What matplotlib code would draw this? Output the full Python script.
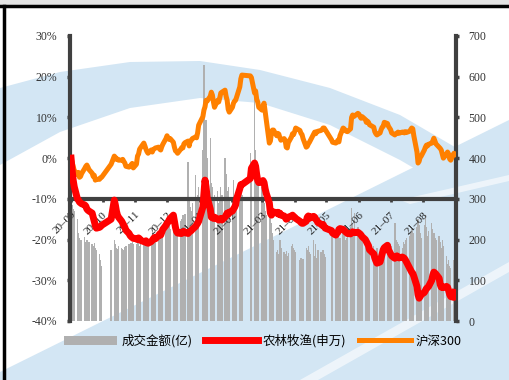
import matplotlib
matplotlib.use("Agg")
import matplotlib.pyplot as plt
from matplotlib.patches import Polygon, Rectangle
from matplotlib.lines import Line2D
import pandas as pd

# jours fériés (bourse de Chine)
holidays = ["2020-10-01", "2020-10-02", "2020-10-05", "2020-10-06", "2020-10-07", "2020-10-08",
            "2021-01-01", "2021-02-11", "2021-02-12", "2021-02-15", "2021-02-16", "2021-02-17",
            "2021-04-05", "2021-05-03", "2021-05-04", "2021-05-05", "2021-06-14"]

# 成交金额(亿) - par mois, sep 2020 -> aou 2021
amount = [
    280, 285, 275, 270, 250, 215, 205, 200, 198, 206, 195, 200, 190, 194, 188, 185, 192, 180, 175, 165, 150, 135,
    175, 200, 190, 180, 178, 185, 180, 178, 175, 182, 185, 190, 186, 192, 195, 188,
    190, 195, 200, 185, 192, 205, 200, 195, 190, 188, 200, 205, 210, 198, 202, 215, 220, 210, 225, 232, 240,
    245, 230, 238, 225, 240, 255, 248, 240, 235, 245, 250, 260, 255, 262, 390, 300, 280, 270, 290, 359, 300, 310, 330,
    420, 629, 380, 494, 400, 450, 340, 330, 300, 310, 320, 290, 300, 330, 310, 400, 360, 320, 330, 300,
    300, 346, 310, 290, 280, 300, 315, 310, 413, 390, 560, 420, 380, 350, 340,
    330, 300, 290, 270, 260, 300, 265, 240, 215, 200, 170, 175, 165, 199, 180, 170, 165, 172, 160, 168, 185, 190, 180,
    175, 170, 150, 155, 148, 152, 180, 175, 185, 170, 165, 200, 160, 190, 155, 175, 170, 160, 174, 165, 158,
    215, 225, 205, 210, 220, 200, 205, 215, 210, 200, 205, 210, 230, 277, 240, 220, 265, 230,
    220, 205, 195, 200, 185, 190, 175, 180, 170, 185, 175, 168, 180, 170, 165, 178, 172, 185, 190, 175, 180,
    190, 185, 240, 200, 195, 190, 185, 180, 195, 190, 200, 205, 210, 215, 225, 220, 215, 230, 250, 235, 215, 205,
    235, 260, 230, 210, 220, 240, 225, 215, 205, 200, 210, 195, 180, 200, 185, 160, 140, 150, 135, 130, 150, 160,
]

# 农林牧渔(申万) en %
agri = [
    0, -3, -5.4, -7, -10, -10.3, -10.8, -11, -11.2, -11.5, -11.8, -12.5, -12.8, -13, -13.5, -14.5, -15.5, -16.5, -17.2, -17, -16.8, -16.5,
    -15, -10.3, -11.5, -13, -14, -14.5, -15.5, -16, -16.5, -17, -17.7, -18.5, -19, -19.3, -19.5, -19.7,
    -19.8, -20, -19.6, -19.8, -20.2, -20.5, -20.6, -20.3, -20.8, -20.9, -20.5, -20.2, -19.8, -19.5, -19.8, -19, -18.6, -18.9, -18.2, -17.5, -16.5,
    -16, -15.7, -15.2, -14.8, -14, -15.5, -17, -18, -18.4, -18.5, -18.2, -18.4, -18, -18.3, -18.5, -18.2, -18, -17.8, -17.5, -16.8, -16.4, -16, -15.5,
    -12, -8.6, -5.4, -7, -9.6, -12.5, -14.5, -14.5, -14.8, -14.5, -15, -15.2, -15, -14.8, -15.2, -14.5, -14, -13.5, -13.8, -13.3,
    -13, -12.5, -12.1, -11.5, -10, -7.5, -6.5, -6.5, -5, -2.5, -1.2, -2, -4, -5.5, -6,
    -5.9, -5.5, -6, -7.5, -8.6, -11, -13.5, -14, -13.5, -13.2, -13.5, -13.3, -13.8, -13.5, -14, -14.2, -14.5, -15, -14.8, -14.5, -14.2, -14, -14.3,
    -14.5, -14.8, -15.5, -15.8, -16, -16, -15.5, -14.5, -14.2, -14.8, -14.5, -14.3, -14.5, -15, -15.3, -15.8, -16.2, -16.5, -16.3, -16.8, -17.2,
    -17.8, -18.4, -18.9, -18.5, -18.2, -17.5, -17.3, -17.5, -17.8, -18, -18.3, -18.5, -18.6, -18.4, -18.1, -18.2, -18.3, -18.2,
    -18.4, -18.6, -18.9, -19.3, -20, -20.5, -21, -21.5, -22.5, -23.5, -24.5, -25.2, -25.8, -25.5, -24.5, -23.5, -22.5, -22, -21.4, -22.5, -23,
    -23.5, -24, -24.6, -24.3, -24, -24.2, -24.5, -24.3, -24.4, -24.6, -25, -25.5, -27, -27.5, -28, -28.3, -29, -31.5, -33.5, -34.4, -34, -33.5,
    -33, -32.5, -32, -31.8, -31.5, -30, -28.8, -28, -28.2, -28.5, -29.5, -31, -31.7, -31.6, -31.8, -31.5, -31.7, -32.5, -33.5, -34, -34.2, -33,
]

# 沪深300 en %
hs300 = [
    0, -1, -2, -3, -4, -3.5, -4.7, -4.5, -3.8, -2.5, -2, -1.7, -2.2, -2.8, -3.7, -4.5, -4.2, -5.4, -5.2, -5.2, -4.8, -4.7,
    -1.5, 0.5, 0.2, -0.3, -0.2, -0.5, -0.5, -0.3, -0.8, -1.2, -2, -2.2, -2, -1.6, -1.3, -2.4,
    -1.5, 0.5, 1.0, 2.2, 2.6, 3.7, 3.0, 2.2, 1.6, 1.2, 2.0, 1.5, 2.1, 2.3, 2.5, 2.7, 2.2, 2.0, 2.8, 3.4, 4.8,
    5.5, 5.0, 4.6, 4.8, 3.9, 2.7, 1.8, 1.6, 1.2, 2.2, 2.6, 2.5, 3.5, 3.8, 4.2, 3.0, 4.2, 4.4, 4.8, 5.2, 5.0, 6.2, 8.1,
    10.2, 11.8, 12.6, 14.2, 14.0, 15.2, 16.2, 15.5, 13.8, 12.5, 14.2, 13.8, 14.8, 16.0, 16.2, 16.7, 15.2, 14.2, 12.0, 11.3,
    12.5, 13.5, 14.0, 14.2, 15.0, 17.5, 19.5, 20.4, 20.2, 19.8, 16.0, 16.5, 14.5, 13.8, 12.5,
    11.8, 12.8, 13.5, 11.5, 9.3, 3.7, 4.2, 6.1, 6.9, 6.9, 5.5, 6.1, 5.9, 5.0, 4.4, 4.8, 4.4, 2.7, 2.5, 3.8, 5.2, 6.0, 5.8,
    6.5, 7.4, 6.8, 6.1, 5.8, 4.8, 2.7, 2.9, 3.5, 3.9, 4.4, 5.9, 6.4, 6.0, 6.5, 6.6, 6.8, 7.0, 7.4, 7.4, 7.0,
    4.5, 3.9, 3.7, 3.9, 4.4, 4.0, 5.5, 7.4, 7.2, 6.8, 6.6, 6.5, 7.2, 10.0, 10.6, 10.2, 10.4, 11.0,
    10.8, 10.2, 9.8, 10.2, 9.5, 8.8, 9.1, 8.8, 8.2, 7.6, 6.5, 6.0, 5.7, 6.2, 7.0, 7.6, 7.8, 8.8, 8.5, 7.8, 7.4,
    7.0, 6.2, 5.7, 6.0, 6.1, 6.4, 6.1, 6.4, 6.4, 6.2, 6.5, 6.3, 6.6, 7.0, 7.4, 7.2, 5.5, 1.5, -1.2, -0.8, 0.2, 0.5,
    2.0, 2.7, 3.2, 3.0, 3.4, 3.7, 4.2, 4.9, 4.2, 3.5, 2.7, 2.4, 2.0, 1.0, 0.0, 1.0, 1.5, 1.0, -0.2, -0.5, 1.2, 1.0,
]

days = pd.bdate_range("2020-09-01", "2021-08-31")
days = days[~days.isin(pd.to_datetime(holidays))]
assert len(days) == len(amount) == len(agri) == len(hs300), (len(days), len(amount), len(agri), len(hs300))

month_ticks = pd.date_range("2020-09-01", "2021-08-01", freq="MS")
left_ticks = [30, 20, 10, 0, -10, -20, -30, -40]
right_ticks = [0, 100, 200, 300, 400, 500, 600, 700]

W, H = 509, 380
fig = plt.figure(figsize=(W / 100, H / 100), dpi=100)
fig.patch.set_facecolor("white")

def fpts(pts):
    return [(x / W, 1 - y / H) for x, y in pts]

# fond: filigrane bleu clair
blue = "#d3e6f4"
band = [(0, 88), (60, 72), (130, 62), (200, 61), (260, 70), (330, 88), (400, 115), (460, 150), (509, 185),
        (509, 228), (460, 195), (400, 160), (330, 125), (260, 103), (200, 98), (130, 108), (60, 132), (0, 165)]
fig.add_artist(Polygon(fpts(band), closed=True, transform=fig.transFigure, fc=blue, ec="none", zorder=-3))
low = [(0, 372), (509, 120), (509, 380), (0, 380)]
fig.add_artist(Polygon(fpts(low), closed=True, transform=fig.transFigure, fc=blue, ec="none", zorder=-3))
for pts in ([(300, 380), (509, 262), (509, 272), (318, 380)],
            [(400, 200), (509, 175), (509, 181), (410, 204)]):
    fig.add_artist(Polygon(fpts(pts), closed=True, transform=fig.transFigure, fc="white", ec="none", alpha=0.6, zorder=-2))

# cadre
fig.add_artist(Rectangle((0, 1 - 5 / H), 1, 5 / H, transform=fig.transFigure, fc="#e2e2e2", ec="none", zorder=-1))
fig.add_artist(Line2D([0, 1], [1 - 6 / H, 1 - 6 / H], transform=fig.transFigure, color="black", lw=2.5))
fig.add_artist(Line2D([3.5 / W, 3.5 / W], [0, 1 - 6 / H], transform=fig.transFigure, color="black", lw=2.5))

ax = fig.add_axes([70 / W, 1 - 321 / H, (456 - 70) / W, (321 - 36) / H])
ax2 = ax.twinx()
ax.patch.set_alpha(0)
ax2.patch.set_alpha(0)

# barres (axe de droite)
ax.bar(days, amount, width=1.3, color="#b0b0b0", linewidth=0, label="成交金额(亿)", zorder=1)
ax.set_ylim(0, 700)
ax.set_xlim(pd.Timestamp("2020-08-31"), pd.Timestamp("2021-09-01"))

dark = "#404040"
ax.spines["top"].set_visible(False)
ax.spines["bottom"].set_position(("data", 300))
for s in ["left", "right", "bottom"]:
    ax.spines[s].set_color(dark)
    ax.spines[s].set_linewidth(3)
    ax.spines[s].set_zorder(2)

ax.yaxis.tick_right()
ax.yaxis.set_label_position("right")
ax.set_yticks(right_ticks)
ax.set_yticklabels([str(v) for v in right_ticks], family="Liberation Serif", fontsize=8.5, color="#333333")
ax.tick_params(axis="y", which="both", left=False, right=True, labelleft=False, labelright=True,
               direction="out", length=2, width=2.5, color=dark, pad=7)

ax.set_xticks(month_ticks)
ax.set_xticklabels([d.strftime("%y–%m") for d in month_ticks], rotation=45, ha="right", va="top",
                   rotation_mode="anchor", family="Liberation Serif", fontsize=8, color="#222222")
ax.tick_params(axis="x", direction="out", length=2, width=2, color=dark, pad=6)

# courbes (axe de gauche)
for s in ax2.spines.values():
    s.set_visible(False)
ax2.plot(days, hs300, color="#ff8000", lw=3.6, label="沪深300", solid_joinstyle="round", zorder=3)
ax2.plot(days, agri, color="#ff0000", lw=5, label="农林牧渔(申万)", solid_joinstyle="round", zorder=4)
ax2.set_ylim(-40, 30)
ax2.yaxis.tick_left()
ax2.yaxis.set_label_position("left")
ax2.set_yticks(left_ticks)
ax2.set_yticklabels([f"{v}%" for v in left_ticks], family="Liberation Serif", fontsize=8.5, color="#333333")
ax2.tick_params(axis="y", which="both", left=True, right=False, labelleft=True, labelright=False,
                direction="out", length=2, width=2.5, color=dark, pad=7)

h1, l1 = ax.get_legend_handles_labels()
h2, l2 = ax2.get_legend_handles_labels()
handles = [h1[0], h2[1], h2[0]]
labels = [l1[0], l2[1], l2[0]]
fig.legend(handles, labels, loc="center", bbox_to_anchor=(263 / W, 1 - 341 / H), ncol=3, frameon=False,
           handlelength=4.2, handletextpad=0.4, columnspacing=1.0,
           prop={"family": ["Noto Sans CJK SC", "DejaVu Sans"], "size": 9})

fig.savefig("out.png", dpi=100)
